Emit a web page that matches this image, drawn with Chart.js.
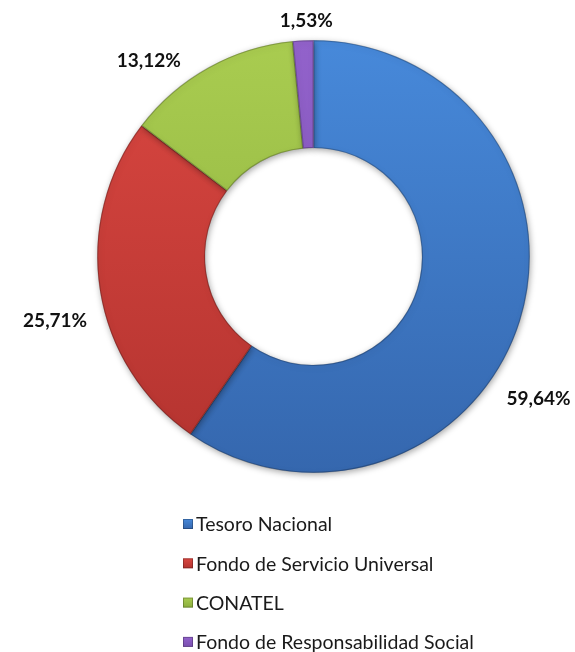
<!DOCTYPE html>
<html>
<head>
<meta charset="utf-8">
<script src="https://cdn.jsdelivr.net/npm/chart.js@4"></script>
<style>
  html, body { margin: 0; padding: 0; background: #ffffff; }
  #wrap { width: 575px; height: 652px; position: relative; }
</style>
</head>
<body>
<div id="wrap"><canvas id="c" width="575" height="652"></canvas></div>
<script>
// ---- data ----
const categories = ["Tesoro Nacional", "Fondo de Servicio Universal", "CONATEL", "Fondo de Responsabilidad Social"];
const shares = [59.64, 25.71, 13.12, 1.53];
const valueLabels = ["59,64%", "25,71%", "13,12%", "1,53%"];

// ---- styles ----
const colorsTop = ["#4789DA", "#DA4741", "#A9CC50", "#9262CB"];
const colorsBottom = ["#3567AE", "#B3332F", "#8BAE3D", "#7A4FB0"];
const labelAngleShift = [15, -5, -11, 1];   // degrees, manual label placement like original
const labelDistance = [1.23, 1.23, 1.18, 1.09]; // in outer radii

function vGrad(ctx, area, i) {
  const g = ctx.createLinearGradient(0, area.top, 0, area.bottom);
  g.addColorStop(0, colorsTop[i]);
  g.addColorStop(1, colorsBottom[i]);
  return g;
}

const shadowPlugin = {
  id: 'shadow',
  beforeDatasetsDraw(chart) {
    const ctx = chart.ctx;
    ctx.save();
    ctx.shadowColor = 'rgba(0,0,0,0.35)';
    ctx.shadowBlur = 6;
    ctx.shadowOffsetX = 1;
    ctx.shadowOffsetY = 2;
  },
  afterDatasetsDraw(chart) {
    chart.ctx.restore();
  }
};

const labelPlugin = {
  id: 'outLabels',
  afterDraw(chart) {
    const ctx = chart.ctx;
    const meta = chart.getDatasetMeta(0);
    ctx.save();
    ctx.font = 'bold 19px Lato';
    ctx.fillStyle = '#111111';
    ctx.textAlign = 'center';
    ctx.textBaseline = 'middle';
    meta.data.forEach((arc, i) => {
      const p = arc.getProps(['x', 'y', 'startAngle', 'endAngle', 'outerRadius'], true);
      const mid = (p.startAngle + p.endAngle) / 2 + labelAngleShift[i] * Math.PI / 180;
      const d = p.outerRadius * labelDistance[i];
      ctx.fillText(valueLabels[i], p.x + Math.cos(mid) * d, p.y + Math.sin(mid) * d);
    });
    ctx.restore();
  }
};

const legendPlugin = {
  id: 'vLegend',
  afterDraw(chart) {
    const ctx = chart.ctx;
    const x0 = 183, y0 = 524, step = 39.3, box = 10;
    ctx.save();
    ctx.font = '19.5px Lato';
    ctx.textBaseline = 'middle';
    ctx.textAlign = 'left';
    categories.forEach((name, i) => {
      const y = y0 + i * step;
      const g = ctx.createLinearGradient(0, y - box / 2, 0, y + box / 2);
      g.addColorStop(0, colorsTop[i]);
      g.addColorStop(1, colorsBottom[i]);
      ctx.fillStyle = g;
      ctx.fillRect(x0, y - box / 2, box, box);
      ctx.strokeStyle = 'rgba(0,0,0,0.25)';
      ctx.lineWidth = 1;
      ctx.strokeRect(x0 + 0.5, y - box / 2 + 0.5, box - 1, box - 1);
      ctx.fillStyle = '#1a1a1a';
      ctx.fillText(name, x0 + box + 3, y + 1);
    });
    ctx.restore();
  }
};

new Chart(document.getElementById('c'), {
  type: 'doughnut',
  data: {
    labels: categories,
    datasets: [{
      data: shares,
      backgroundColor: (c) => {
        const area = c.chart.chartArea;
        if (!area) return colorsTop[c.dataIndex];
        return vGrad(c.chart.ctx, area, c.dataIndex);
      },
      borderColor: 'rgba(0,0,0,0.22)',
      borderWidth: 1,
      borderAlign: 'inner'
    }]
  },
  options: {
    responsive: false,
    animation: false,
    cutout: '50%',
    layout: { padding: { top: 40, bottom: 179, left: 97, right: 45 } },
    plugins: {
      legend: { display: false },
      tooltip: { enabled: false }
    }
  },
  plugins: [shadowPlugin, labelPlugin, legendPlugin]
});
</script>
</body>
</html>
